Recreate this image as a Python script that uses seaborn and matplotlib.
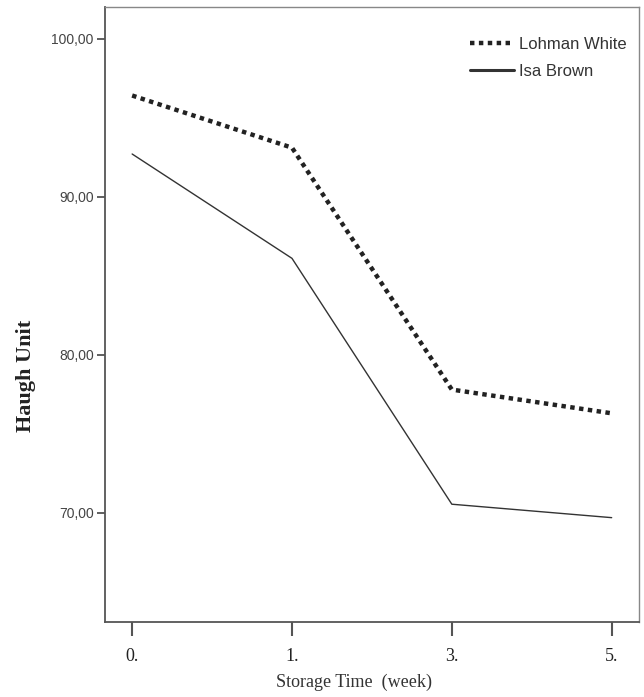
import matplotlib
matplotlib.use("Agg")
import matplotlib.pyplot as plt
import seaborn as sns
import pandas as pd
from matplotlib.lines import Line2D

weeks = ["0.", "1.", "3.", "5."]
lohman_white = [96.4, 93.1, 77.8, 76.3]
isa_brown = [92.7, 86.1, 70.55, 69.7]
series_names = ["Lohman White", "Isa Brown"]
y_ticks = [70, 80, 90, 100]

df = pd.DataFrame({
    "week": weeks * 2,
    "value": lohman_white + isa_brown,
    "breed": [series_names[0]] * 4 + [series_names[1]] * 4,
})

sns.set_style("white")
fig = plt.figure(figsize=(6.44, 6.97), dpi=100)
ax = fig.add_axes([0.163, 0.1076, 0.829, 0.8824])

sns.lineplot(data=df, x="week", y="value", hue="breed", style="breed",
             palette={series_names[0]: "#222222", series_names[1]: "#333333"},
             dashes={series_names[0]: (1.0, 1.0), series_names[1]: ""},
             sort=False, ax=ax, legend=False)
lines = ax.get_lines()
lines[0].set_linewidth(3.2)
lines[1].set_linewidth(1.0)

ax.set_xlim(-0.17, 3.17)
ax.set_ylim(63.1, 102.0)
ax.set_yticks(y_ticks)
ax.set_yticklabels([f"{v:.2f}".replace(".", ",") for v in y_ticks],
                   fontfamily="Liberation Sans", fontsize=10, color="#444444")
ax.set_xticks(range(len(weeks)))
ax.set_xticklabels(weeks, fontfamily="Liberation Serif", fontsize=13, color="#222222")
ax.tick_params(axis="y", length=6, width=1.2, color="#444444", pad=2, left=True)
ax.tick_params(axis="x", length=10, width=1.5, color="#555555", pad=9, bottom=True)

for s in ["left", "bottom"]:
    ax.spines[s].set_color("#555555")
    ax.spines[s].set_linewidth(1.3)
for s in ["top", "right"]:
    ax.spines[s].set_color("#888888")
    ax.spines[s].set_linewidth(1.0)

ax.set_xlabel("Storage Time  (week)", fontfamily="Liberation Serif", fontsize=13,
              color="#333333")
ax.xaxis.set_label_coords(0.467, -0.084)
ax.set_ylabel("Haugh Unit", fontfamily="Liberation Serif", fontsize=16,
              fontweight="bold", color="#222222")
ax.yaxis.set_label_coords(-0.129, 0.40)

handles = [Line2D([], [], color="#222222", lw=3.2, dashes=(1.0, 1.0)),
           Line2D([], [], color="#333333", lw=2.2)]
leg = ax.legend(handles, series_names, loc="upper right", frameon=False,
                prop={"family": "Liberation Sans", "size": 12},
                handlelength=2.6, handletextpad=0.3, labelspacing=0.7,
                borderaxespad=0.0, bbox_to_anchor=(0.989, 0.962))
for t in leg.get_texts():
    t.set_color("#333333")

fig.savefig("out.png", dpi=100, facecolor="white")
